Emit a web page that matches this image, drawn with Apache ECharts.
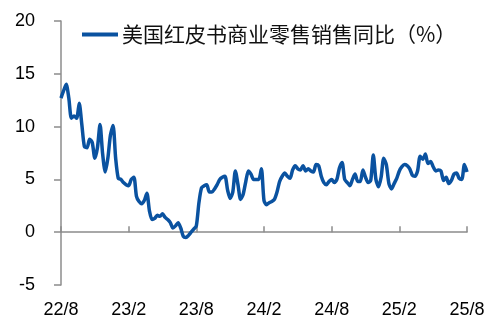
<!DOCTYPE html>
<html><head><meta charset="utf-8">
<script src="https://cdn.jsdelivr.net/npm/echarts@6/dist/echarts.min.js"></script>
<style>html,body{margin:0;padding:0;background:#fff}#c{width:498px;height:334px}</style>
</head><body><div id="c"></div>
<script>
var seriesName = '美国红皮书商业零售销售同比（%）';
var tickLabels = ['22/8','23/2','23/8','24/2','24/8','25/2','25/8'];
var yTicks = [-5, 0, 5, 10, 15, 20];
var values = [
12.7,13.4,14.0,12.7,10.8,11.0,10.8,12.2,10.2,8.1,
8.0,8.8,8.5,7.0,8.0,10.2,7.4,5.7,7.0,9.2,
10.1,7.0,5.1,5.0,4.7,4.5,4.4,5.0,5.2,3.4,
2.9,2.7,3.0,3.7,2.0,1.2,1.3,1.6,1.5,1.75,
1.4,1.2,0.9,0.4,0.6,0.9,0.4,-0.4,-0.5,-0.3,
0.0,0.3,0.6,2.8,4.2,4.4,4.5,3.8,3.8,4.1,
4.5,5.0,5.2,5.3,4.0,3.2,3.8,5.8,4.5,3.1,
3.6,4.8,5.8,5.5,5.0,5.0,5.0,6.0,3.0,2.6,
2.8,2.9,3.1,3.8,4.8,5.3,5.6,5.3,5.1,5.9,
6.3,6.0,5.9,6.3,5.8,6.0,5.8,5.7,6.4,6.3,
5.3,4.7,4.5,4.8,5.0,4.7,5.0,6.1,6.6,5.0,
4.7,4.4,5.0,5.5,4.8,4.8,5.9,5.2,4.7,4.9,
7.3,5.0,4.3,5.2,7.0,6.4,4.6,4.1,4.6,5.1,
5.8,6.2,6.4,6.3,6.0,5.4,5.3,5.8,7.2,6.9,
7.4,6.5,6.7,6.2,5.8,5.9,5.8,4.9,5.2,4.6,
4.9,5.5,5.6,5.1,5.0,6.4,5.7
];
var weeksPerTick = 26;
var categories = values.map(function(v, i){
  return (i % weeksPerTick === 0) ? (tickLabels[i / weeksPerTick] || '') : '';
});
var chart = echarts.init(document.getElementById('c'));
var numFont = 'Liberation Sans, Arial, sans-serif';
var lineColor = '#0a52a0';
chart.setOption({
  animation: false,
  backgroundColor: '#fff',
  grid: { left: 61, right: 31, top: 21, bottom: 49, containLabel: false },
  legend: {
    left: 82, top: 24, padding: 0, itemWidth: 36, itemHeight: 4, itemGap: 4,
    icon: 'rect',
    data: [seriesName],
    textStyle: { fontFamily: 'Noto Sans CJK SC', fontSize: 21, color: '#111', padding: [0,0,0,-1] }
  },
  xAxis: [{
    type: 'category', data: categories, boundaryGap: false, position: 'bottom',
    axisLine: { show: false, onZero: false }, axisTick: { show: false },
    axisLabel: { interval: weeksPerTick - 1, margin: 16, fontSize: 18, color: '#000', fontFamily: numFont, showMaxLabel: true }
  }, {
    type: 'category', data: categories, boundaryGap: false,
    axisLine: { show: true, onZero: true, lineStyle: { color: '#8c8c8c', width: 1.5 } },
    axisTick: { show: true, interval: weeksPerTick - 1, length: 6, inside: false, lineStyle: { color: '#8c8c8c', width: 1.5 } },
    axisLabel: { show: false }
  }],
  yAxis: {
    type: 'value', min: yTicks[0], max: yTicks[yTicks.length-1], interval: 5,
    axisLine: { show: true, lineStyle: { color: '#8c8c8c', width: 1.5 } },
    axisTick: { show: true, length: 7, lineStyle: { color: '#8c8c8c', width: 1.5 } },
    splitLine: { show: false },
    axisLabel: { margin: 26, fontSize: 18, color: '#000', fontFamily: numFont }
  },
  series: [{
    name: seriesName, type: 'line', xAxisIndex: 1, data: values,
    symbol: 'none', smooth: 0.25,
    lineStyle: { color: lineColor, width: 3.5 },
    itemStyle: { color: lineColor }
  }]
});
</script></body></html>
